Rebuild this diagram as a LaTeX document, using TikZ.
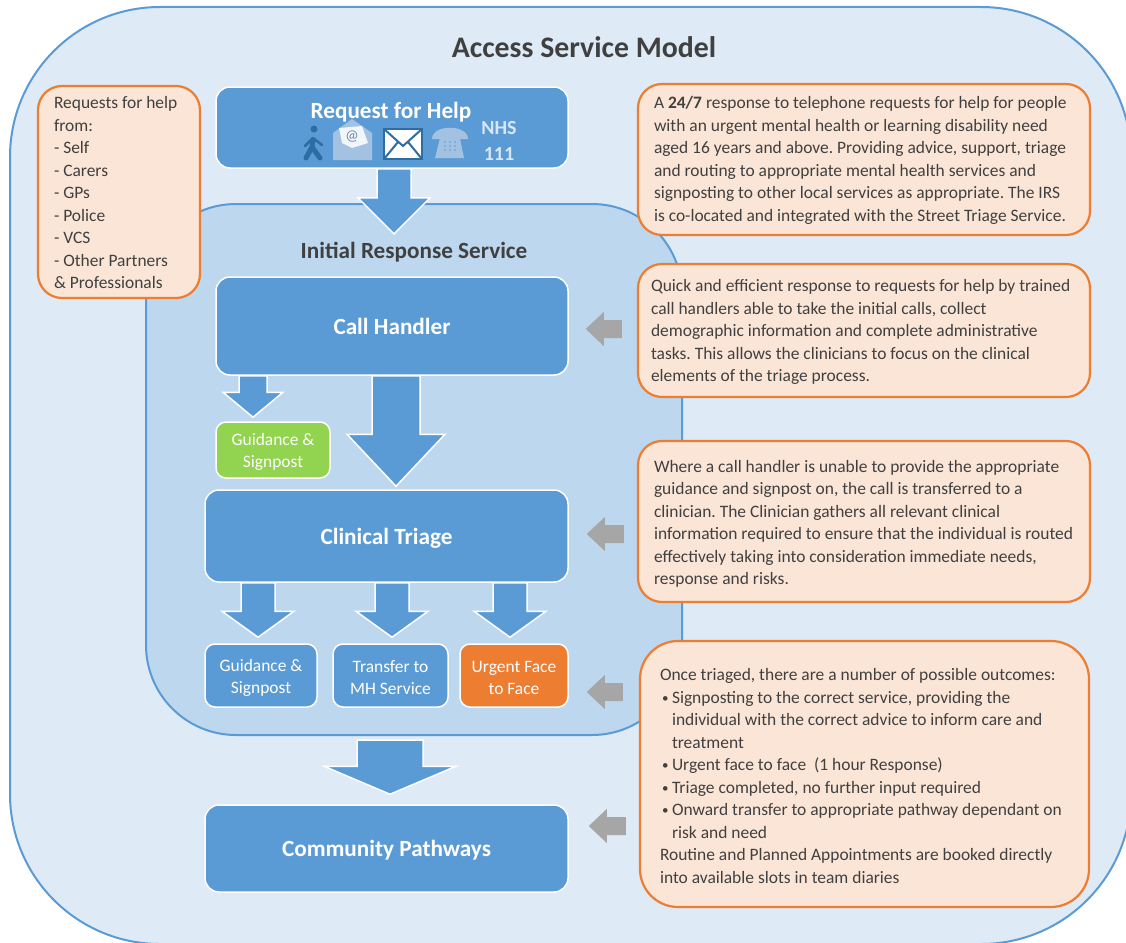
\documentclass[tikz,border=0pt]{standalone}
\usepackage{fontspec}
\setmainfont{Carlito}
\usetikzlibrary{calc}
\definecolor{panelblue}{HTML}{DEEAF6}
\definecolor{innerblue}{HTML}{BDD7EE}
\definecolor{boxblue}{HTML}{5B9BD5}
\definecolor{noteorange}{HTML}{ED7D31}
\definecolor{notefill}{HTML}{FBE5D6}
\definecolor{boxgreen}{HTML}{92D34F}
\definecolor{arrowgrey}{HTML}{A6A6A6}
\definecolor{inktext}{HTML}{404040}
\definecolor{darkicon}{HTML}{2E6CA4}
\definecolor{paleicon}{HTML}{A3C2E2}
\tikzset{
  flowbox/.style={draw=white, line width=1.5pt, fill=boxblue, rounded corners=14pt, text=white, align=flush center},
  bigbox/.style={flowbox, text depth=0pt, font=\fontsize{23.2}{26}\selectfont\bfseries},
  smallbox/.style={flowbox, rounded corners=10pt, font=\fontsize{17.45}{22.5}\selectfont},
  notebox/.style={draw=noteorange, line width=2.2pt, fill=notefill, rounded corners=24pt, text=inktext, align=flush left, inner ysep=0pt, font=\fontsize{17.45}{22.5}\selectfont},
  blockarrow/.style={draw=white, line width=1.5pt, fill=boxblue, line join=miter},
  greyarrow/.style={fill=arrowgrey},
}
% pushes a block of lines down a little
\newcommand{\lowerfirst}[1]{\rule{0pt}{#1pt}}
\newcommand{\notebullet}{\makebox[12pt][l]{\hspace*{2pt}\raisebox{1pt}{\fontsize{13}{13}\selectfont\textbullet}}}
% down arrow: x, from, to, tip gap, half shaft, half head, head length
\newcommand{\blockdown}[7]{
  \path[blockarrow] let \p1=(#2), \p2=(#3) in
    (#1pt-#5pt,\y1) -- (#1pt-#5pt,\y2+#4pt+#7pt) -- (#1pt-#6pt,\y2+#4pt+#7pt)
    -- (#1pt,\y2+#4pt) -- (#1pt+#6pt,\y2+#4pt+#7pt) -- (#1pt+#5pt,\y2+#4pt+#7pt)
    -- (#1pt+#5pt,\y1) -- cycle;
}
% grey left arrow: y, note anchor, box anchor, tail gap, tip gap
\newcommand{\blockleft}[5]{
  \path[greyarrow] let \p1=(#2), \p2=(#3) in
    (\x1-#4pt,-#1pt+9pt) -- (\x2+#5pt+18pt,-#1pt+9pt) -- (\x2+#5pt+18pt,-#1pt+17pt)
    -- (\x2+#5pt,-#1pt) -- (\x2+#5pt+18pt,-#1pt-17pt) -- (\x2+#5pt+18pt,-#1pt-9pt)
    -- (\x1-#4pt,-#1pt-9pt) -- cycle;
}
\begin{document}
\frenchspacing
\begin{tikzpicture}[x=1pt,y=-1pt]
  \useasboundingbox (0,0) rectangle (1126,942);
  \clip (0,0) rectangle (1126,942);

  % Background panels
  \node (outer) [draw=boxblue, line width=2pt, outer sep=0pt, fill=panelblue, rounded corners=150pt, minimum width=1121pt, minimum height=937pt, anchor=north west] at (10,7) {};
  \node (panel) [draw=boxblue, line width=2pt, outer sep=0pt, fill=innerblue, rounded corners=90pt, minimum width=536pt, minimum height=531pt, anchor=north west] at (146,204) {};

  % Titles
  \node (title) [text=inktext, font=\fontsize{29.8}{34}\selectfont\bfseries] at (584,47) {Access Service Model};
  \node (irslabel) [text=inktext, inner sep=0pt, font=\fontsize{23.2}{26}\selectfont\bfseries] at (414,252) {Initial Response Service};

  % Main boxes
  \node (request) [flowbox, minimum width=352pt, minimum height=81pt] at (392,127.5) {};
  \node (requestlabel) [text=white, inner sep=0pt, font=\fontsize{23.2}{26}\selectfont\bfseries] at (391,112.5) {Request for Help};
  \node (handler) [bigbox, minimum width=352pt, minimum height=98pt] at (392,326) {Call Handler};
  \node (signa) [smallbox, fill=boxgreen, minimum width=114pt, minimum height=56pt] at (273,450) {\lowerfirst{16}Guidance \&\\Signpost};
  \node (triage) [bigbox, minimum width=363pt, minimum height=92pt] at (386.5,536) {Clinical Triage};
  \node (signb) [smallbox, minimum width=112pt, minimum height=63pt] at (261,675.5) {\lowerfirst{17}Guidance \&\\Signpost};
  \node (transfer) [smallbox, minimum width=115pt, minimum height=63pt] at (390.5,675.5) {\lowerfirst{16}Transfer to\\MH Service};
  \node (urgent) [smallbox, fill=noteorange, minimum width=108pt, minimum height=63pt] at (514,675.5) {\lowerfirst{16}Urgent Face\\to Face};
  \node (community) [bigbox, minimum width=363pt, minimum height=87pt] at (386.5,848.5) {Community Pathways};

  % Request icons
  \node (walker) [fill=darkicon, circle, inner sep=0pt, minimum size=7pt] at (314,129) {};
  \draw[darkicon, line width=5pt, line cap=round, line join=round] (313,140) -- (312,147) -- (306,158);
  \draw[darkicon, line width=5pt, line cap=round, line join=round] (312,147) -- (320,158);
  \draw[darkicon, line width=2.5pt, line cap=round] (313,138) -- (305,146) (313,138) -- (322,145);
  \fill[paleicon] (333,133) -- (352,119) -- (372,133) -- (372,160) -- (333,160) -- cycle;
  \fill[white!85!paleicon] (339,128) -- (362,126) -- (368,143) -- (352,148) -- (342,143) -- cycle;
  \node (atsign) [text=paleicon!70!black, inner sep=0pt, font=\fontsize{15}{15}\selectfont] at (352,137) {@};
  \draw[white, line width=3pt, fill=white] (386,131) rectangle (421,157);
  \draw[darkicon, line width=2.5pt] (384,129) rectangle (422,159);
  \draw[darkicon, line width=2pt] (384,129) -- (403,146) -- (422,129) (384,159) -- (398,142) (422,159) -- (408,142);
  \fill[paleicon] (432,139) .. controls (432,124) and (468,124) .. (468,139) -- (459,139) -- (458,134) -- (442,134) -- (441,139) -- cycle;
  \fill[paleicon] (441,134) -- (459,134) -- (464,158) -- (435,158) -- cycle;
  \foreach \dotx in {445,450,455} {
    \foreach \doty in {142,146,150} {
      \fill[boxblue!85] (\dotx,\doty) circle (1.2);
    }
  }
  \node (nhs) [text=white!75!boxblue, inner sep=0pt, font=\fontsize{20}{22}\selectfont\bfseries] at (499,128) {NHS};
  \node (nhsnum) [text=white!75!boxblue, inner sep=0pt, font=\fontsize{20}{22}\selectfont\bfseries] at (499,154) {111};

  % Notes
  \node (sources) [notebox, minimum width=162pt, minimum height=212pt, text width=130pt, inner xsep=16pt] at (119,192) {\lowerfirst{14}Requests for help\\from:\\- Self\\- Carers\\- GPs\\- Police\\- VCS\\- Other Partners\\\& Professionals};
  \node (notea) [notebox, minimum width=452pt, minimum height=151pt, text width=420pt, inner xsep=16pt] at (864,159.5) {\lowerfirst{14}A \textbf{24/7} response to telephone requests for help for people\\with an urgent mental health or learning disability need\\aged 16 years and above. Providing advice, support, triage\\and routing to appropriate mental health services and\\signposting to other local services as appropriate. The IRS\\is co-located and integrated with the Street Triage Service.};
  \node (noteb) [notebox, minimum width=452pt, minimum height=133pt, text width=426pt, inner xsep=13pt] at (864,330.5) {\lowerfirst{15}Quick and efficient response to requests for help by trained\\call handlers able to take the initial calls, collect\\demographic information and complete administrative\\tasks. This allows the clinicians to focus on the clinical\\elements of the triage process.};
  \node (notec) [notebox, minimum width=452pt, minimum height=161pt, text width=420pt, inner xsep=16pt] at (864,521.5) {\lowerfirst{17}Where a call handler is unable to provide the appropriate\\guidance and signpost on, the call is transferred to a\\clinician. The Clinician gathers all relevant clinical\\\mbox{information required to ensure that the individual is routed}\\effectively taking into consideration immediate needs,\\response and risks.};
  \node (noted) [notebox, rounded corners=38pt, minimum width=449pt, minimum height=266pt, text width=409pt, inner xsep=20pt] at (864.5,774) {\lowerfirst{16}Once triaged, there are a number of possible outcomes:\\\notebullet Signposting to the correct service, providing the\\\hspace*{12pt}individual with the correct advice to inform care and\\\hspace*{12pt}treatment\\\notebullet Urgent face to face\ \ (1 hour Response)\\\notebullet Triage completed, no further input required\\\notebullet Onward transfer to appropriate pathway dependant on\\\hspace*{12pt}risk and need\\Routine and Planned Appointments are booked directly\\into available slots in team diaries};

  % Flow arrows
  \coordinate (panelout) at (390,740);
  \blockdown{394}{request.south}{irslabel.north}{8}{17}{36}{36}
  \blockdown{253}{handler.south}{signa.north}{4}{14}{30}{25}
  \blockdown{396}{handler.south}{triage.north}{3}{24}{49}{52}
  \blockdown{258}{triage.south}{signb.north}{6}{17}{36}{26}
  \blockdown{392}{triage.south}{transfer.north}{6}{17}{36}{26}
  \blockdown{510}{triage.south}{urgent.north}{6}{17}{36}{26}
  \blockdown{390}{panelout}{community.north}{10}{33}{66}{28}

  % Grey arrows towards the notes
  \blockleft{329}{noteb.west}{handler.east}{15}{17}
  \blockleft{534}{notec.west}{triage.east}{13}{18}
  \blockleft{692}{noted.west}{urgent.east}{16}{18}
  \blockleft{826}{noted.west}{community.east}{13}{20}
\end{tikzpicture}
\end{document}
